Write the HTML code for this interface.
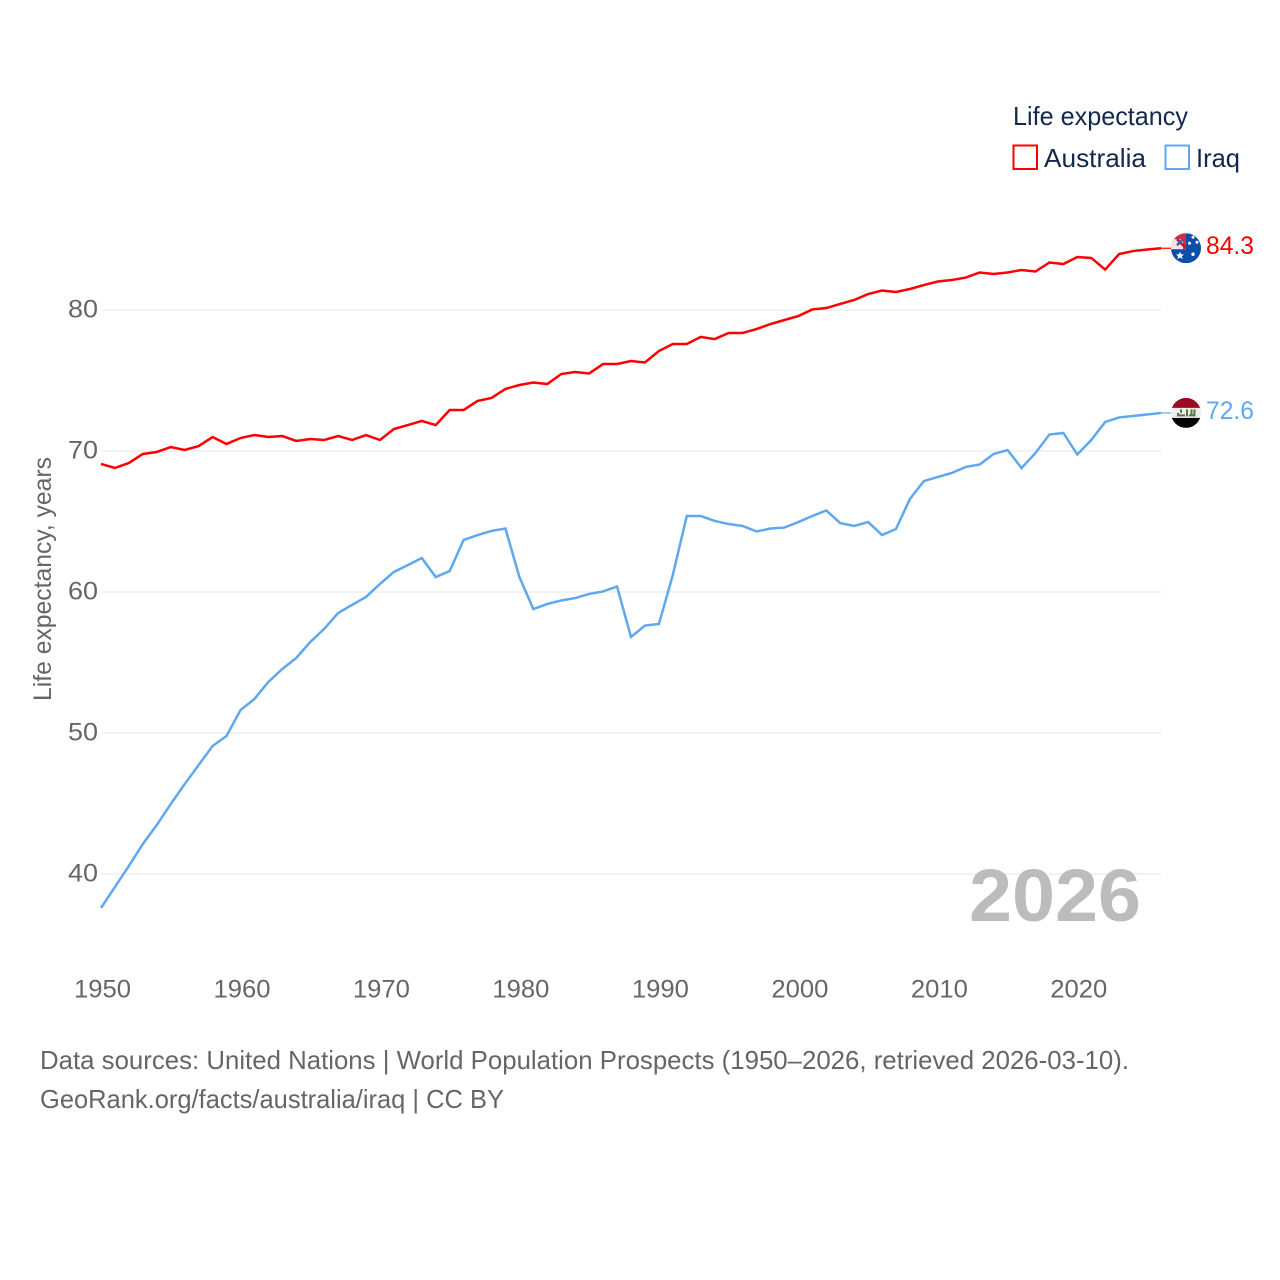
<!DOCTYPE html>
<html lang="en">
<head>
<meta charset="utf-8">
<title>Life expectancy: Australia and Iraq</title>
<style>
html,body{margin:0;padding:0;background:#fff;width:1280px;height:1280px;overflow:hidden}
svg{display:block}
text{font-family:"Liberation Sans",sans-serif}
</style>
</head>
<body>
<svg id="chart" xmlns="http://www.w3.org/2000/svg" width="1280" height="1280" viewBox="0 0 1280 1280">
  <rect width="1280" height="1280" fill="#fff"/>
  <defs>
    <clipPath id="flag-clip"><circle cx="0" cy="0" r="15"/></clipPath>
  </defs>
  <g id="grid"></g>
  <g id="y-ticks"></g>
  <g id="x-ticks"></g>
  <text transform="translate(51,701) rotate(-90)" font-size="25" fill="#666" textLength="244" lengthAdjust="spacingAndGlyphs">Life expectancy, years</text>
  <text x="969" y="921" font-size="74" font-weight="700" fill="#bcbcbc" textLength="172" lengthAdjust="spacingAndGlyphs">2026</text>

  <polyline id="line-australia" fill="none" stroke="#ff0000" stroke-width="2.5" stroke-linejoin="miter"/>
  <polyline id="line-iraq" fill="none" stroke="#5fa8ee" stroke-width="2.5" stroke-linejoin="miter"/>
  <line id="lead-australia" stroke="#ff0000" stroke-width="1.2"/>
  <line id="lead-iraq" stroke="#5fa8ee" stroke-width="1.2"/>

  <g id="flag-australia">
    <g clip-path="url(#flag-clip)">
      <rect x="-15" y="-15" width="30" height="30" fill="#0b4fa8"/>
      <rect x="-15" y="-15" width="15" height="16" fill="#f0e4ea"/>
      <path d="M-15,-15H0V1H-3V-9H-15Z" fill="#d8274a"/>
      <path d="M-9,-9L-1,-1" stroke="#c8103a" stroke-width="2.5"/>
      <path d="M-9,-3L-3,-9" stroke="#3a5fa8" stroke-width="2.5"/>
      <path d="M-6,3.5L-4.8,6L-2,6.2L-4.2,8L-3.4,10.8L-6,9.3L-8.6,10.8L-7.8,8L-10,6.2L-7.2,6Z" fill="#fff"/>
      <circle cx="7" cy="-11" r="1.5" fill="#fff"/>
      <circle cx="3.5" cy="-5" r="1.5" fill="#fff"/>
      <circle cx="11" cy="-6" r="1.5" fill="#fff"/>
      <circle cx="7" cy="6" r="1.7" fill="#fff"/>
    </g>
  </g>
  <text id="value-australia" x="1206" font-size="25" fill="#ff0000" textLength="48" lengthAdjust="spacingAndGlyphs"></text>

  <g id="flag-iraq">
    <g clip-path="url(#flag-clip)">
      <rect x="-15" y="-15" width="30" height="10" fill="#9b0a20"/>
      <rect x="-15" y="-5" width="30" height="10" fill="#eeeeee"/>
      <rect x="-15" y="5" width="30" height="10" fill="#050505"/>
      <path d="M-9,3.5H-1V1.5H-7V0H-9ZM-6,-3.5V0H-4V-3.5ZM0,-3.5V3.5H2V-3.5ZM3,3.5H9.5V-3.5H7.5V1.5H6.5V-3.5H4.5V1.5H3Z" fill="#557a45"/>
    </g>
  </g>
  <text id="value-iraq" x="1206" font-size="25" fill="#5fa8ee" textLength="48" lengthAdjust="spacingAndGlyphs"></text>

  <g>
    <text x="1013" y="125" font-size="26" fill="#12294d" textLength="175" lengthAdjust="spacingAndGlyphs">Life expectancy</text>
    <rect x="1013.5" y="145.5" width="23.5" height="23.5" fill="none" stroke="#ff0000" stroke-width="2"/>
    <text x="1044" y="167" font-size="26" fill="#12294d" textLength="102" lengthAdjust="spacingAndGlyphs">Australia</text>
    <rect x="1165.5" y="145.5" width="23.5" height="23.5" fill="none" stroke="#5fa8ee" stroke-width="2"/>
    <text x="1196" y="167" font-size="26" fill="#12294d" textLength="44" lengthAdjust="spacingAndGlyphs">Iraq</text>
  </g>

  <text x="40" y="1069" font-size="26" fill="#666" textLength="1089" lengthAdjust="spacingAndGlyphs">Data sources: United Nations | World Population Prospects (1950–2026, retrieved 2026-03-10).</text>
  <text x="40" y="1108" font-size="26" fill="#666" textLength="464" lengthAdjust="spacingAndGlyphs">GeoRank.org/facts/australia/iraq | CC BY</text>
</svg>
<script>
const startYear = 1950;
const xTickYears = [1950, 1960, 1970, 1980, 1990, 2000, 2010, 2020];
const yTickValues = [40, 50, 60, 70, 80];
const australiaValues = [69.08,68.8,69.15,69.79,69.93,70.28,70.07,70.35,70.99,70.5,70.92,71.13,70.99,71.06,70.71,70.85,70.78,71.06,70.78,71.13,70.78,71.56,71.84,72.13,71.84,72.91,72.91,73.55,73.76,74.4,74.68,74.86,74.75,75.46,75.6,75.5,76.17,76.17,76.38,76.28,77.09,77.59,77.59,78.09,77.94,78.37,78.37,78.65,79.0,79.29,79.57,80.04,80.14,80.43,80.71,81.13,81.38,81.28,81.49,81.77,82.02,82.13,82.3,82.66,82.55,82.66,82.84,82.73,83.37,83.26,83.76,83.69,82.87,83.97,84.18,84.29,84.38];
const iraqValues = [37.59,39.08,40.57,42.13,43.48,44.96,46.38,47.73,49.08,49.79,51.63,52.41,53.62,54.54,55.32,56.45,57.38,58.51,59.08,59.65,60.57,61.42,61.91,62.41,61.06,61.49,63.69,64.04,64.33,64.5,61.06,58.79,59.15,59.4,59.57,59.86,60.04,60.39,56.81,57.62,57.73,61.21,65.39,65.39,65.04,64.82,64.68,64.29,64.5,64.57,64.96,65.39,65.78,64.89,64.68,64.96,64.04,64.47,66.6,67.87,68.16,68.44,68.87,69.04,69.79,70.07,68.79,69.86,71.17,71.28,69.75,70.78,72.06,72.38,72.48,72.59,72.7];
const endLabels = ["84.3", "72.6"];

const NS = "http://www.w3.org/2000/svg";
function xScale(year) { return 101 + (year - 1950) * (1077.3 - 101) / 70; }
function yScale(value) { return 310 + (80 - value) * (874 - 310) / 40; }
function pointsFor(values) {
  return values.map(function (v, i) {
    return xScale(startYear + i).toFixed(2) + "," + yScale(v).toFixed(2);
  }).join(" ");
}
const lastYear = startYear + australiaValues.length - 1;
const gridGroup = document.getElementById("grid");
const yGroup = document.getElementById("y-ticks");
const xGroup = document.getElementById("x-ticks");

yTickValues.forEach(function (v) {
  const line = document.createElementNS(NS, "line");
  
  
  line.setAttribute("x1", xScale(startYear) + 1);
  line.setAttribute("x2", xScale(lastYear));
  line.setAttribute("y1", yScale(v));
  line.setAttribute("y2", yScale(v));
  line.setAttribute("stroke", "#eeeeee");
  line.setAttribute("stroke-width", "1.6");
  gridGroup.appendChild(line);

  const label = document.createElementNS(NS, "text");
  
  
  label.setAttribute("x", 98);
  label.setAttribute("y", yScale(v) + 7.5);
  label.setAttribute("text-anchor", "end");
  label.setAttribute("font-size", "25");
  label.setAttribute("fill", "#666");
  label.setAttribute("textLength", "30");
  label.setAttribute("lengthAdjust", "spacingAndGlyphs");
  label.textContent = v;
  yGroup.appendChild(label);
});

xTickYears.forEach(function (y) {
  const label = document.createElementNS(NS, "text");
  
  
  label.setAttribute("x", xScale(y) + 1.5);
  label.setAttribute("y", 997.5);
  label.setAttribute("text-anchor", "middle");
  label.setAttribute("font-size", "25");
  label.setAttribute("fill", "#666");
  label.setAttribute("textLength", "57");
  label.setAttribute("lengthAdjust", "spacingAndGlyphs");
  label.textContent = y;
  xGroup.appendChild(label);
});

function drawSeries(key, values, label) {
  const endY = yScale(values[values.length - 1]);
  document.getElementById("line-" + key).setAttribute("points", pointsFor(values));
  const lead = document.getElementById("lead-" + key);
  lead.setAttribute("x1", xScale(lastYear));
  lead.setAttribute("x2", xScale(lastYear) + 10);
  lead.setAttribute("y1", endY);
  lead.setAttribute("y2", endY);
  document.getElementById("flag-" + key).setAttribute("transform", "translate(1186," + endY + ")");
  const text = document.getElementById("value-" + key);
  text.setAttribute("y", endY + 6);
  text.textContent = label;
}
drawSeries("australia", australiaValues, endLabels[0]);
drawSeries("iraq", iraqValues, endLabels[1]);
</script>
</body>
</html>
